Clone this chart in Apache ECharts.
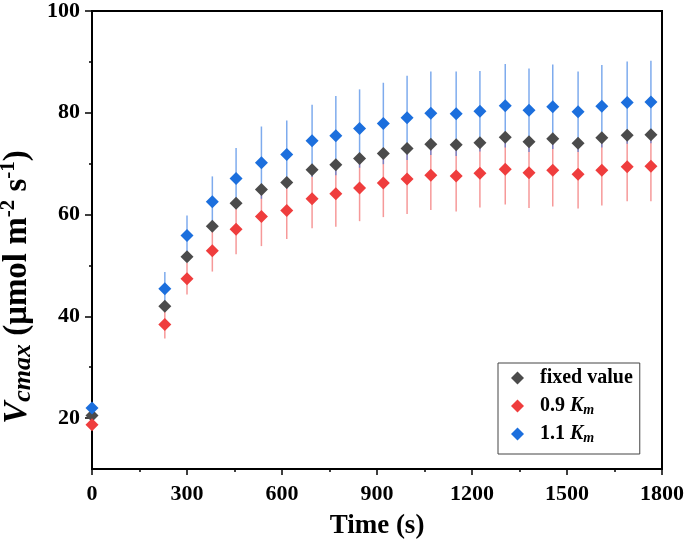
<!DOCTYPE html>
<html>
<head>
<meta charset="utf-8">
<script src="https://cdn.jsdelivr.net/npm/echarts@6/dist/echarts.min.js"></script>
<style>
html,body{margin:0;padding:0;background:#fff;}
#chart{width:688px;height:543px;}
</style>
</head>
<body>
<div id="chart"></div>
<script>
const times = [0,230,300,380,455,535,615,695,770,845,920,995,1070,1150,1225,1305,1380,1455,1535,1610,1690,1765];
const fixedVals = [20.5,42.0,51.7,57.7,62.2,64.9,66.3,68.8,69.8,71.0,72.0,73.0,73.8,73.7,74.1,75.2,74.3,74.9,74.0,75.1,75.6,75.7];
const km09Vals = [18.7,38.4,47.4,52.9,57.1,59.6,60.8,63.1,64.1,65.2,66.2,67.0,67.7,67.6,68.1,68.9,68.2,68.7,67.9,68.7,69.4,69.5];
const km09Err = [0,2.75,3.1,4.1,4.9,5.8,5.6,5.8,6.5,6.5,6.7,6.9,6.8,7.0,6.7,6.9,6.9,7.1,6.7,6.9,6.8,6.9];
const km11Vals = [22.0,45.4,55.9,62.5,67.1,70.2,71.8,74.5,75.5,76.9,77.9,79.0,79.9,79.8,80.3,81.4,80.5,81.2,80.2,81.3,82.0,82.1];
const km11Err = [0,3.3,3.9,5.0,6.0,7.1,6.7,7.1,7.8,7.7,8.0,8.3,8.2,8.3,7.9,8.2,8.2,8.3,7.9,8.1,8.1,8.1];
const seriesNames = ['fixed value','0.9 Km','1.1 Km'];
const xMajorTicks = [0,300,600,900,1200,1500,1800];
const xMinorTicks = [150,450,750,1050,1350,1650];
const yMajorTicks = [20,40,60,80,100];
const yMinorTicks = [30,50,70,90];

const FONT = "'Liberation Serif','Times New Roman',serif";
const cGray = '#4b4b4b', cRed = '#ef3d3d', cBlue = '#1c6fdd';

function pts(vals){ return times.map((t,i)=>[t, vals[i]]); }
function errData(vals, errs){ return times.map((t,i)=>[t, vals[i], errs[i]]); }
function errSeries(vals, errs, color){
  return {
    type:'custom', xAxisIndex:0, yAxisIndex:0, clip:true, z:2, silent:true,
    data: errData(vals, errs),
    renderItem: function(params, api){
      const x = api.value(0), y = api.value(1), e = api.value(2);
      if (!e) return null;
      const p1 = api.coord([x, y - e]), p2 = api.coord([x, y + e]);
      return {type:'line', shape:{x1:p1[0], y1:p1[1], x2:p2[0], y2:p2[1]}, style:{stroke:color, lineWidth:1.5}};
    }
  };
}

const chart = echarts.init(document.getElementById('chart'), null, {renderer:'canvas'});
const option = {
  animation:false,
  backgroundColor:'#fff',
  grid:{left:92, right:26, top:11, bottom:74, outerBoundsMode:'none', containLabel:false, show:true, borderColor:'#000', borderWidth:2, backgroundColor:'transparent'},
  legend:{
    orient:'vertical', left:498, top:363,
    data: seriesNames.map(n=>({name:n, icon:'diamond'})),
    itemWidth:13, itemHeight:13, itemGap:6,
    padding:[4,7,9,13],
    borderColor:'#444', borderWidth:1,
    formatter: function(name){
      if (name === 'fixed value') return '{s| }{b|fixed value}';
      return '{s| }{b|' + name.split(' ')[0] + ' }{k|K}{m|m}';
    },
    textStyle:{
      color:'#000', fontFamily:FONT, fontSize:20, fontWeight:'bold', lineHeight:22,
      rich:{
        s:{width:11, fontSize:10},
        b:{fontFamily:FONT, fontSize:20, fontWeight:'bold', color:'#000', lineHeight:22},
        k:{fontFamily:FONT, fontSize:20, fontWeight:'bold', fontStyle:'italic', color:'#000', lineHeight:22},
        m:{fontFamily:FONT, fontSize:14, fontWeight:'bold', fontStyle:'italic', color:'#000', lineHeight:8, verticalAlign:'bottom'}
      }
    }
  },
  xAxis:[
    {
      type:'value', min:0, max:1800, position:'bottom',
      axisLine:{show:true, lineStyle:{color:'#000', width:2}},
      axisTick:{show:true, inside:false, length:6, customValues:xMajorTicks, lineStyle:{color:'#000', width:1.5}},
      axisLabel:{customValues:xMajorTicks, formatter:v=>String(v), color:'#000', fontFamily:FONT, fontSize:22, fontWeight:'bold', margin:14},
      splitLine:{show:false},
      name:'Time (s)', nameLocation:'middle', nameGap:44,
      nameTextStyle:{color:'#000', fontFamily:FONT, fontSize:27, fontWeight:'bold'}
    },
    {
      type:'value', min:0, max:1800, position:'bottom',
      axisLine:{show:false},
      axisTick:{show:true, length:3, customValues:xMinorTicks, lineStyle:{color:'#000', width:1.5}},
      axisLabel:{show:false}, splitLine:{show:false}
    }
  ],
  yAxis:[
    {
      type:'value', min:10, max:100, position:'left',
      axisLine:{show:true, lineStyle:{color:'#000', width:2}},
      axisTick:{show:true, inside:false, length:7, customValues:yMajorTicks, lineStyle:{color:'#000', width:1.5}},
      axisLabel:{customValues:yMajorTicks, formatter:v=>String(v), color:'#000', fontFamily:FONT, fontSize:22, fontWeight:'bold', margin:12},
      splitLine:{show:false},
      name:'{v|V}{sub|cmax}{t| (μmol m}{sup|-2}{t| s}{sup|-1}{t|)}',
      nameLocation:'middle', nameGap:50, nameRotate:90,
      nameTextStyle:{
        color:'#000', fontFamily:FONT, fontSize:33, fontWeight:'bold', padding:[0,94,0,0],
        rich:{
          v:{fontFamily:FONT, fontSize:33, fontWeight:'bold', fontStyle:'italic', color:'#000', lineHeight:38},
          sub:{fontFamily:FONT, fontSize:26, fontWeight:'bold', fontStyle:'italic', color:'#000', lineHeight:20, verticalAlign:'bottom'},
          t:{fontFamily:FONT, fontSize:33, fontWeight:'bold', color:'#000', lineHeight:38},
          sup:{fontFamily:FONT, fontSize:21, fontWeight:'bold', color:'#000', lineHeight:16, verticalAlign:'top'}
        }
      }
    },
    {
      type:'value', min:10, max:100, position:'left',
      axisLine:{show:false},
      axisTick:{show:true, length:3, customValues:yMinorTicks, lineStyle:{color:'#000', width:1.5}},
      axisLabel:{show:false}, splitLine:{show:false}
    }
  ],
  series:[
    errSeries(km09Vals, km09Err, 'rgba(239,70,70,0.55)'),
    errSeries(km11Vals, km11Err, 'rgba(40,115,225,0.6)'),
    {name:seriesNames[0], type:'scatter', xAxisIndex:0, yAxisIndex:0, symbol:'diamond', symbolSize:13, z:3, itemStyle:{color:cGray, opacity:1}, data:pts(fixedVals)},
    {name:seriesNames[1], type:'scatter', xAxisIndex:0, yAxisIndex:0, symbol:'diamond', symbolSize:13, z:3, itemStyle:{color:cRed, opacity:1}, data:pts(km09Vals)},
    {name:seriesNames[2], type:'scatter', xAxisIndex:0, yAxisIndex:0, symbol:'diamond', symbolSize:13, z:3, itemStyle:{color:cBlue, opacity:1}, data:pts(km11Vals)}
  ]
};
chart.setOption(option);
</script>
</body>
</html>
